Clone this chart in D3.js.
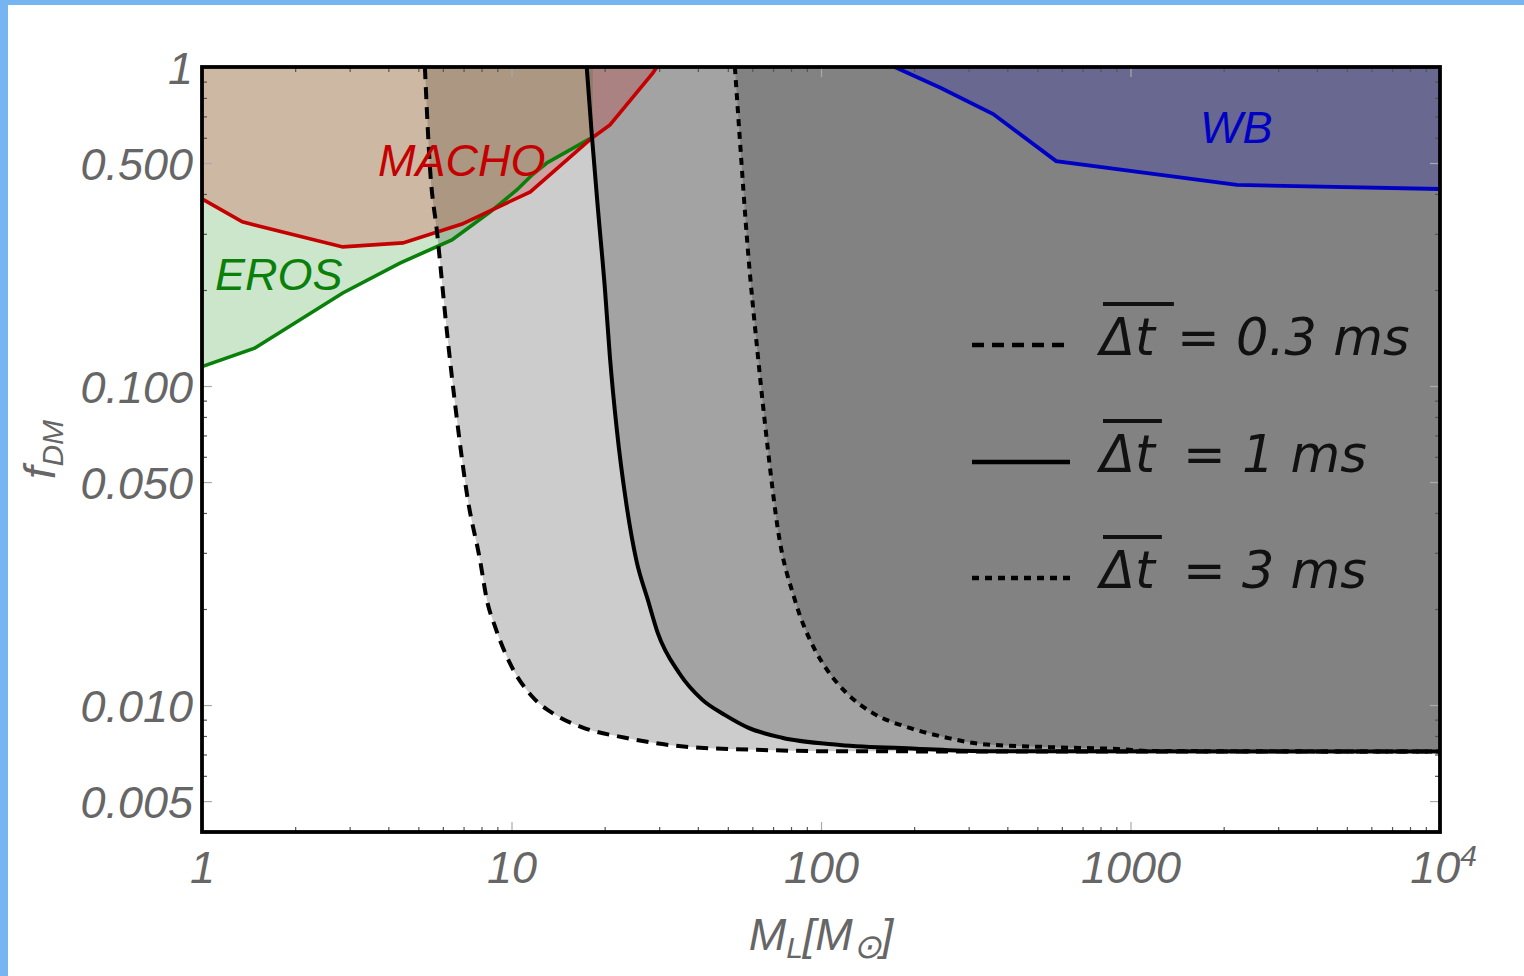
<!DOCTYPE html>
<html><head><meta charset="utf-8">
<script src="https://cdn.jsdelivr.net/npm/d3@7"></script>
<style>
body{margin:0;background:#fff;}
svg{display:block;}
text{font-family:"Liberation Sans",Arial,Helvetica,sans-serif;font-style:italic;}
.leg{font-family:"DejaVu Sans",sans-serif;font-style:oblique;}
</style></head><body>
<svg id="c" width="1524" height="976"></svg>
<script>
// ---- data (M_L in solar masses, f_DM) ----
const dt03 = [[5.25,1],[5.45,0.486],[5.75,0.302],[6.19,0.147],[6.67,0.078],[7.23,0.0439],[7.91,0.0285],[8.33,0.0213],[8.85,0.0176],[9.89,0.0135],[11.7,0.0106],[13.9,0.0093],[17.0,0.0085],[23.3,0.0079],[36.6,0.0074],[64.9,0.00723],[115,0.00716],[10000,0.00715]];
const dt1 = [[17.5,1],[18.2,0.603],[19.0,0.364],[20.05,0.200],[20.8,0.123],[21.9,0.0728],[23.4,0.0439],[25.3,0.0285],[27.6,0.0213],[29.7,0.0168],[34.8,0.0126],[41.3,0.0104],[49.0,0.0093],[58.1,0.0085],[74.8,0.0079],[115,0.0075],[203,0.0073],[329,0.00717],[10000,0.00715]];
const dt3 = [[52.7,1],[54.7,0.590],[57.7,0.287],[62.6,0.123],[67.4,0.063],[72.6,0.0354],[82.4,0.0213],[95.6,0.0149],[104,0.0130],[121,0.0109],[148,0.0094],[192,0.0085],[255,0.0079],[329,0.00755],[550,0.00738],[905,0.00728],[1156,0.00718],[10000,0.00715]];
const eros = [[1,0.115],[1.48,0.1315],[2.85,0.1957],[4.36,0.2429],[6.42,0.2869],[8.52,0.351],[10.4,0.4116],[11.65,0.4586],[13.0,0.500],[18.3,0.603]];
const macho = [[1,0.386],[1.35,0.327],[2.85,0.273],[4.46,0.281],[6.92,0.322],[11.5,0.406],[18.2,0.599],[20.8,0.658],[28.6,0.957],[29.5,1]];
const wb = [[173,1],[244,0.859],[360,0.712],[575,0.507],[2208,0.427],[10000,0.4145]];

const xTickValues = [1,10,100,1000,10000];
const xTickLabels = ["1","10","100","1000","10"];
const yTickValues = [1,0.5,0.1,0.05,0.01,0.005];
const yTickLabels = ["1","0.500","0.100","0.050","0.010","0.005"];
const legendLabels = ["0.3 ms","1 ms","3 ms"];
const legendDash = ["12,8",null,"7,6"];

// ---- layout ----
const W=1524,H=976;
const x = d3.scaleLog().domain([1,1e4]).range([202,1440]);
const y = d3.scaleLog().domain([0.004,1]).range([832,67]);
const svg = d3.select("#c");
svg.append("rect").attr("width",W).attr("height",H).attr("fill","#fff");
svg.append("rect").attr("x",0).attr("y",0).attr("width",8).attr("height",H).attr("fill","#76b4f2");
svg.append("rect").attr("x",0).attr("y",0).attr("width",W).attr("height",5).attr("fill","#76b4f2");

const [x0,x1] = x.range(), [y1,y0] = y.range();
svg.append("defs").append("clipPath").attr("id","clip").append("rect")
  .attr("x",x0).attr("y",y0).attr("width",x1-x0).attr("height",y1-y0);
const plot = svg.append("g").attr("clip-path","url(#clip)");

const areaAbove = c => d3.area().x(d=>x(d[0])).y0(y(1)).y1(d=>y(d[1])).curve(c);
const lineOf = c => d3.line().x(d=>x(d[0])).y(d=>y(d[1])).curve(c);
const smooth = d3.curveMonotoneX, lin = d3.curveLinear;

// fills
[dt03,dt1,dt3].forEach(s=>plot.append("path").attr("d",areaAbove(smooth)(s)).attr("fill","rgba(0,0,0,0.2)"));
plot.append("path").attr("d",areaAbove(lin)(eros)).attr("fill","rgba(0,128,0,0.2)");
plot.append("path").attr("d",areaAbove(lin)(macho)).attr("fill","rgba(204,0,0,0.2)");
plot.append("path").attr("d",areaAbove(lin)(wb)).attr("fill","rgba(0,0,204,0.2)");

// lines
plot.append("path").attr("d",lineOf(lin)(eros)).attr("fill","none").attr("stroke","#0a7f0a").attr("stroke-width",3.6);
plot.append("path").attr("d",lineOf(lin)(macho)).attr("fill","none").attr("stroke","#c40000").attr("stroke-width",3.6);
plot.append("path").attr("d",lineOf(lin)(wb)).attr("fill","none").attr("stroke","#0000c4").attr("stroke-width",3.8);
[dt03,dt1,dt3].forEach((s,i)=>plot.append("path").attr("d",lineOf(smooth)(s)).attr("fill","none")
  .attr("stroke","#000").attr("stroke-width",4).attr("stroke-dasharray",legendDash[i]));

// region labels
const lab = (t,xx,yy,col)=>svg.append("text").attr("x",xx).attr("y",yy).attr("fill",col).attr("font-size",45).text(t);
lab("MACHO",378,176,"#c40000");
lab("EROS",215,290,"#0a7f0a");
lab("WB",1200,143,"#0000c4");

// legend
const legY = [345,462,578];
const legRestX = [1177,1183,1183];
const olExtra = [19,7,7];
legendLabels.forEach((t,i)=>{
  const g = svg.append("g");
  g.append("line").attr("x1",972).attr("x2",1070).attr("y1",legY[i]).attr("y2",legY[i])
    .attr("stroke","#000").attr("stroke-width",4.5).attr("stroke-dasharray",legendDash[i]);
  const dt = g.append("text").attr("class","leg").attr("x",1100).attr("y",legY[i]+10).attr("font-size",51).attr("fill","#111").text("\u0394t");
  const len = dt.node().getComputedTextLength();
  g.append("line").attr("x1",1103).attr("x2",1100+len+olExtra[i]).attr("y1",legY[i]-41).attr("y2",legY[i]-41)
    .attr("stroke","#111").attr("stroke-width",4);
  g.append("text").attr("class","leg").attr("x",legRestX[i]).attr("y",legY[i]+10).attr("font-size",51).attr("fill","#111").text("= "+t);
});

// frame ticks
const allX = x.ticks(), allY = y.ticks();
const minorX = allX.filter(v=>!xTickValues.includes(v));
const minorY = allY.filter(v=>!yTickValues.some(m=>Math.abs(m-v)/v<1e-6));
function tickAxis(axisFn, scale, vals, size, tr, color){
  const g = svg.append("g").attr("transform",tr)
    .call(axisFn(scale).tickValues(vals).tickSize(-size).tickFormat(""));
  g.select(".domain").remove();
  g.selectAll("line").attr("stroke",color).attr("stroke-width",1.2);
  return g;
}
tickAxis(d3.axisBottom,x,minorX,5,`translate(0,${y1})`,"#555");
tickAxis(d3.axisTop,x,minorX,5,`translate(0,${y0})`,"#555");
tickAxis(d3.axisBottom,x,xTickValues,10,`translate(0,${y1})`,"#aaa");
tickAxis(d3.axisTop,x,xTickValues,10,`translate(0,${y0})`,"#aaa");
tickAxis(d3.axisLeft,y,minorY,5,`translate(${x0},0)`,"#555");
tickAxis(d3.axisRight,y,minorY,5,`translate(${x1},0)`,"#555");
tickAxis(d3.axisLeft,y,yTickValues,10,`translate(${x0},0)`,"#aaa");
tickAxis(d3.axisRight,y,yTickValues,10,`translate(${x1},0)`,"#aaa");

// labels via axes
const gx = svg.append("g").attr("transform",`translate(0,${y1})`)
  .call(d3.axisBottom(x).tickValues(xTickValues).tickSize(0).tickPadding(19).tickFormat((d,i)=>xTickLabels[i]));
gx.select(".domain").remove();
gx.selectAll("text").attr("font-size",45).attr("fill","#666").attr("font-family",null);
gx.selectAll("text").filter(d=>d===10000).attr("dx","0.07em").append("tspan").attr("font-size",30).attr("dy","-0.55em").text("4");
const gy = svg.append("g").attr("transform",`translate(${x0},0)`)
  .call(d3.axisLeft(y).tickValues(yTickValues).tickSize(0).tickPadding(9).tickFormat((d,i)=>yTickLabels[i]));
gy.select(".domain").remove();
gy.selectAll("text").attr("font-size",45).attr("fill","#666").attr("dy","0.36em").attr("font-family",null);

// frame
svg.append("rect").attr("x",x0).attr("y",y0).attr("width",x1-x0).attr("height",y1-y0)
  .attr("fill","none").attr("stroke","#000").attr("stroke-width",3.8);

// axis titles
const yl = svg.append("text").attr("transform",`translate(55,${(y0+y1)/2}) rotate(-90)`)
  .attr("text-anchor","middle").attr("fill","#666").attr("font-size",45);
yl.append("tspan").text("f");
yl.append("tspan").attr("font-size",30).attr("dy",8).text("DM");
const xl = svg.append("text").attr("x",(x0+x1)/2).attr("y",950).attr("text-anchor","middle").attr("fill","#666").attr("font-size",45);
xl.append("tspan").text("M");
xl.append("tspan").attr("font-size",30).attr("dy",8).text("L");
xl.append("tspan").attr("dy",-8).text("[M");
xl.append("tspan").attr("font-size",34).attr("dy",8).text("\u2299");
xl.append("tspan").attr("dy",-8).text("]");
</script>
</body></html>
